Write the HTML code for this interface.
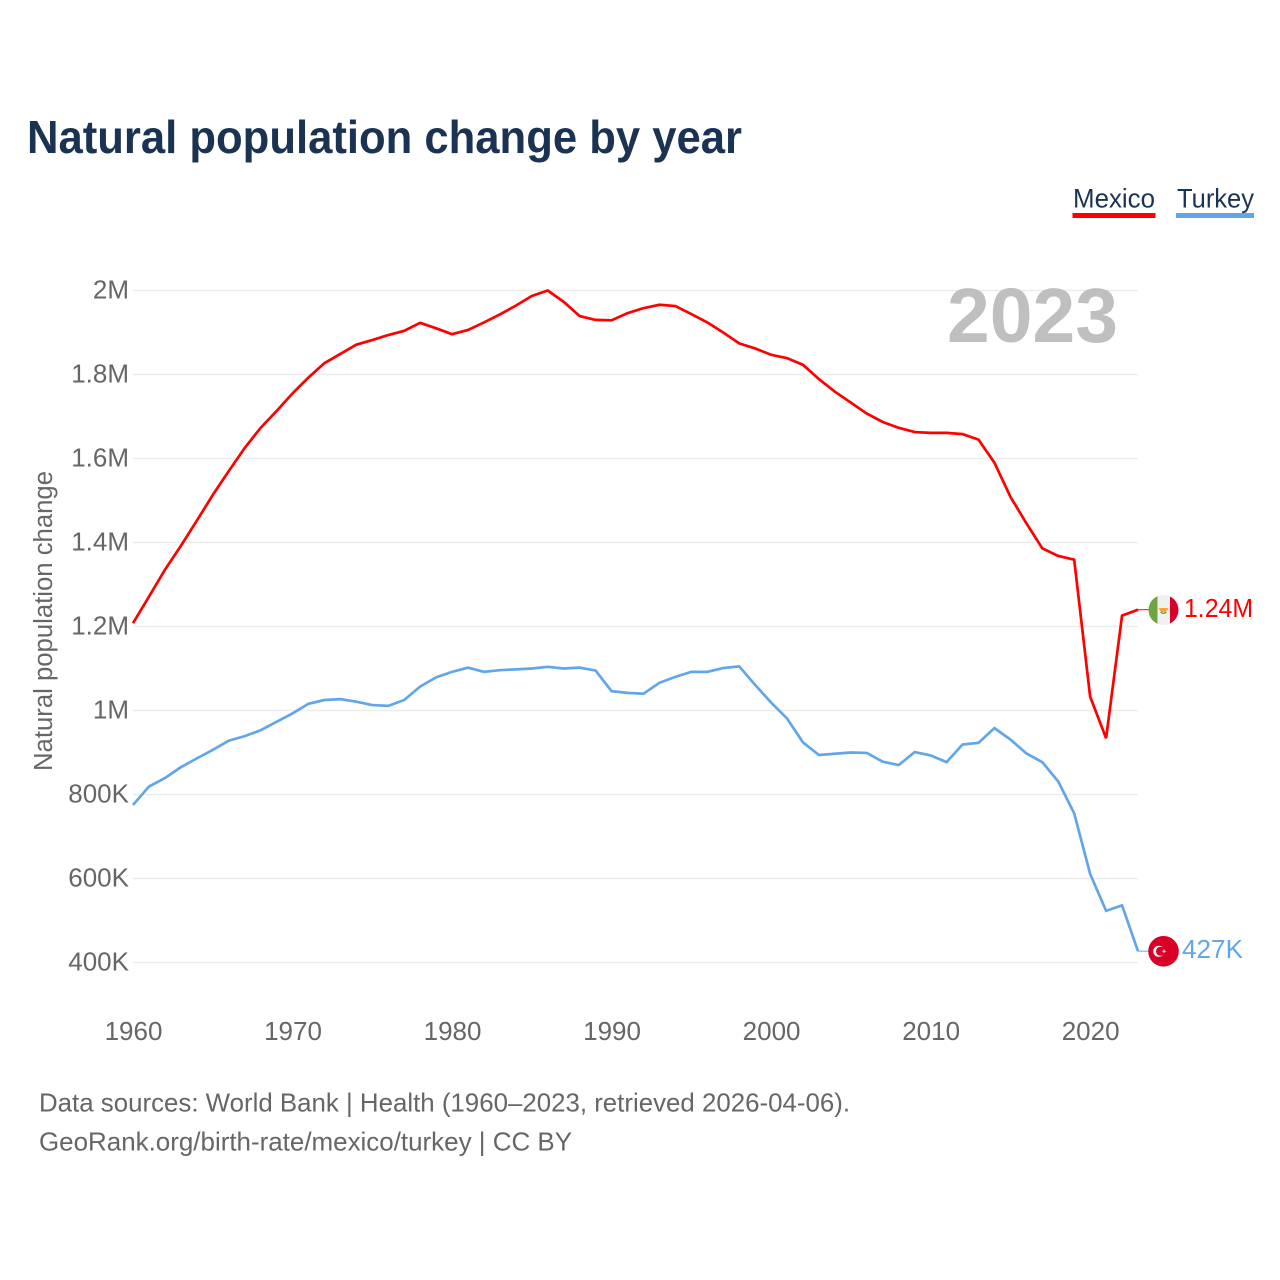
<!DOCTYPE html>
<html lang="en">
<head>
<meta charset="utf-8">
<title>Natural population change by year</title>
<style>
html,body{margin:0;padding:0;background:#fff;}
svg{display:block;font-family:"Liberation Sans",sans-serif;}
</style>
</head>
<body>
<svg id="chart" width="1280" height="1280" viewBox="0 0 1280 1280" xmlns="http://www.w3.org/2000/svg">
  <rect x="0" y="0" width="1280" height="1280" fill="#fff"/>
  <text x="27" y="153" font-size="46" font-weight="700" fill="#1a3353" textLength="715" lengthAdjust="spacingAndGlyphs">Natural population change by year</text>

  <g>
    <g>
      <text x="1073" y="207.5" font-size="27" fill="#1a3353" textLength="82" lengthAdjust="spacingAndGlyphs">Mexico</text>
      <rect x="1072.5" y="213" width="83" height="5" fill="#ff0000"/>
    </g>
    <g>
      <text x="1177" y="207.5" font-size="27" fill="#1a3353" textLength="77" lengthAdjust="spacingAndGlyphs">Turkey</text>
      <rect x="1176" y="213" width="78" height="5" fill="#62a6ea"/>
    </g>
  </g>

  <g id="grid"></g>
  <g id="yticks"></g>
  <g id="xticks"></g>

  <text transform="translate(52,621) rotate(-90)" text-anchor="middle" font-size="25.5" fill="#666" textLength="300" lengthAdjust="spacingAndGlyphs">Natural population change</text>
  <text x="947" y="342" font-size="77" font-weight="700" fill="#bfbfbf" textLength="171" lengthAdjust="spacingAndGlyphs">2023</text>

  <g id="series"></g>

  <g>
    <clipPath id="mx-clip"><circle cx="1163.5" cy="610" r="15"/></clipPath>
    <g clip-path="url(#mx-clip)">
      <rect x="1148" y="594" width="10" height="32" fill="#6da544"/>
      <rect x="1157.5" y="594" width="12.5" height="32" fill="#f0f0f0"/>
      <rect x="1170" y="594" width="10" height="32" fill="#d80027"/>
      <path d="M1158.5 608 L1168.5 608 L1166 612 L1161 612 Z" fill="#ffa033"/>
      <path d="M1160 612 A4 4 0 0 0 1167 612 L1165 612 L1163.5 613 L1162 612 Z" fill="#6da544"/>
    </g>
  </g>
  <g>
    <circle cx="1163.5" cy="951.3" r="15.3" fill="#d80027"/>
    <circle cx="1158.8" cy="951.3" r="5.6" fill="#f0f0f0"/>
    <circle cx="1160.5" cy="951.3" r="4.5" fill="#d80027"/>
    <polygon points="1161.6,951.3 1163.3,950.7 1164,949 1164.7,950.7 1166.4,951.3 1164.7,951.9 1164,953.6 1163.3,951.9" fill="#f0f0f0"/>
  </g>

  <text x="1184" y="617" font-size="25.5" fill="#ff0000" textLength="69" lengthAdjust="spacingAndGlyphs">1.24M</text>
  <text x="1182" y="958" font-size="25.5" fill="#62a6ea" textLength="61" lengthAdjust="spacingAndGlyphs">427K</text>

  <g>
    <text x="39" y="1111.5" font-size="26" fill="#666" textLength="811" lengthAdjust="spacingAndGlyphs">Data sources: World Bank | Health (1960–2023, retrieved 2026-04-06).</text>
    <text x="39" y="1150.5" font-size="26" fill="#666" textLength="533" lengthAdjust="spacingAndGlyphs">GeoRank.org/birth-rate/mexico/turkey | CC BY</text>
  </g>
</svg>
<script>
const startYear = 1960;
const mexicoValues = [1208,1271,1335,1392,1452,1513,1570,1625,1673,1713,1755,1793,1827,1849,1871,1882,1894,1904,1923,1910,1896,1906,1924,1943,1964,1987,2000,1973,1939,1930,1929,1946,1958,1966,1963,1944,1924,1900,1874,1862,1847,1839,1823,1789,1759,1733,1707,1687,1673,1663,1661,1661,1658,1645,1590,1509,1446,1386,1368,1359,1033,934,1226,1240];
const turkeyValues = [775,819,839,865,886,906,928,939,953,973,993,1016,1025,1027,1021,1013,1011,1025,1057,1079,1092,1102,1092,1096,1098,1100,1104,1100,1102,1095,1046,1042,1040,1066,1080,1092,1092,1101,1105,1061,1019,981,924,894,897,900,899,878,870,901,893,877,919,923,958,931,898,877,831,755,611,523,536,427];
const yTickValues = [2000,1800,1600,1400,1200,1000,800,600,400];
const yTickLabels = ["2M","1.8M","1.6M","1.4M","1.2M","1M","800K","600K","400K"];
const xTickYears = [1960,1970,1980,1990,2000,2010,2020];

const SVG_NS = "http://www.w3.org/2000/svg";
const xAt = function (year) { return 133 + (year - 1960) * (1005 / 63); };
const yAt = function (v) { return 290.5 + (2000 - v) * 0.42; };

const grid = document.getElementById("grid");
const yticks = document.getElementById("yticks");
yTickValues.forEach(function (v, i) {
  const y = yAt(v);
  const line = document.createElementNS(SVG_NS, "line");
  
  
  line.setAttribute("x1", 133);
  line.setAttribute("x2", 1138);
  line.setAttribute("y1", y);
  line.setAttribute("y2", y);
  line.setAttribute("stroke", "#ececec");
  line.setAttribute("stroke-width", "1.6");
  grid.appendChild(line);
  const t = document.createElementNS(SVG_NS, "text");
  
  
  t.setAttribute("x", 129);
  t.setAttribute("y", y + 8);
  t.setAttribute("text-anchor", "end");
  t.setAttribute("font-size", "26");
  t.setAttribute("fill", "#666");
  t.textContent = yTickLabels[i];
  yticks.appendChild(t);
});

const xticks = document.getElementById("xticks");
xTickYears.forEach(function (yr) {
  const t = document.createElementNS(SVG_NS, "text");
  
  
  t.setAttribute("x", xAt(yr) + 0.5);
  t.setAttribute("y", 1040);
  t.setAttribute("text-anchor", "middle");
  t.setAttribute("font-size", "26");
  t.setAttribute("fill", "#666");
  t.textContent = String(yr);
  xticks.appendChild(t);
});

const series = document.getElementById("series");
function pointsFor(values) {
  return values.map(function (v, i) {
    return xAt(startYear + i).toFixed(2) + "," + yAt(v).toFixed(2);
  }).join(" ");
}
const mexicoLine = document.createElementNS(SVG_NS, "polyline");


mexicoLine.setAttribute("points", pointsFor(mexicoValues));
mexicoLine.setAttribute("fill", "none");
mexicoLine.setAttribute("stroke", "#ff0000");
mexicoLine.setAttribute("stroke-width", "2.7");
mexicoLine.setAttribute("stroke-linejoin", "miter");
series.appendChild(mexicoLine);

const turkeyLine = document.createElementNS(SVG_NS, "polyline");


turkeyLine.setAttribute("points", pointsFor(turkeyValues));
turkeyLine.setAttribute("fill", "none");
turkeyLine.setAttribute("stroke", "#62a6ea");
turkeyLine.setAttribute("stroke-width", "2.7");
turkeyLine.setAttribute("stroke-linejoin", "miter");
series.appendChild(turkeyLine);

const mexicoLeader = document.createElementNS(SVG_NS, "line");


mexicoLeader.setAttribute("x1", xAt(2023));
mexicoLeader.setAttribute("x2", 1150);
mexicoLeader.setAttribute("y1", yAt(mexicoValues[mexicoValues.length - 1]));
mexicoLeader.setAttribute("y2", yAt(mexicoValues[mexicoValues.length - 1]));
mexicoLeader.setAttribute("stroke", "#ff0000");
mexicoLeader.setAttribute("stroke-width", "1");
series.appendChild(mexicoLeader);

const turkeyLeader = document.createElementNS(SVG_NS, "line");


turkeyLeader.setAttribute("x1", xAt(2023));
turkeyLeader.setAttribute("x2", 1150);
turkeyLeader.setAttribute("y1", yAt(turkeyValues[turkeyValues.length - 1]));
turkeyLeader.setAttribute("y2", yAt(turkeyValues[turkeyValues.length - 1]));
turkeyLeader.setAttribute("stroke", "#62a6ea");
turkeyLeader.setAttribute("stroke-width", "1");
series.appendChild(turkeyLeader);
</script>
</body>
</html>
